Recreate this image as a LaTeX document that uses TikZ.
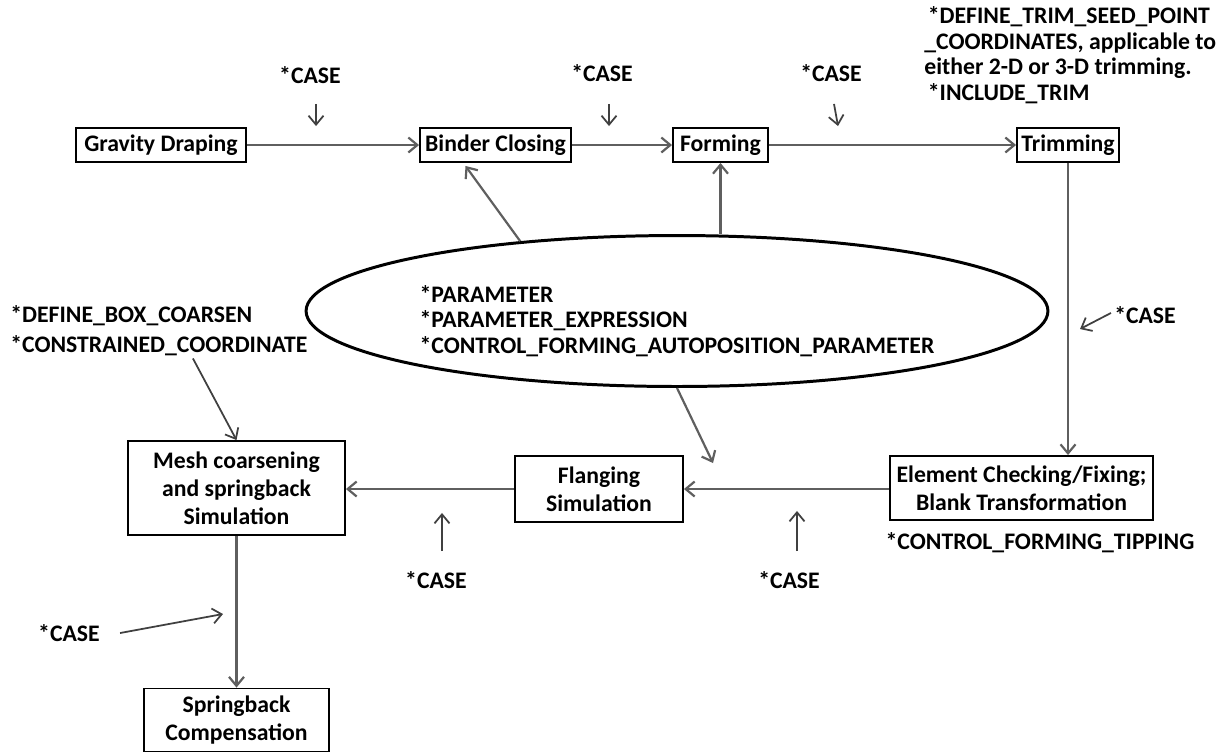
\documentclass[tikz,border=0pt]{standalone}
\usepackage{fontspec}
\setmainfont{Carlito}
\usepackage{tikz}
\usetikzlibrary{arrows.meta,positioning,calc,shapes.geometric}
\definecolor{flow}{HTML}{5F5F5F}
\definecolor{hint}{HTML}{404040}

\begin{document}
\begin{tikzpicture}[x=0.02cm, y=-0.02cm, font=\bfseries\fontsize{13.5}{16}\selectfont,
  box/.style={draw=black, line width=1.1pt, align=center, inner sep=1pt},
  arr/.style={-{Straight Barb[length=1.8mm, width=3mm]}, line width=1.25pt, draw=flow},
  hintarr/.style={-{Straight Barb[length=1.8mm, width=3mm]}, line width=1pt, draw=hint},
  tag/.style={inner sep=0pt, align=left}]
\useasboundingbox (0,0) rectangle (1222,752);
% top row
\node[box, minimum width=3.4cm, minimum height=0.68cm] (grav) at (161,145) {Gravity Draping};
\node[box, minimum width=3.02cm, minimum height=0.68cm] (binder) at (495.5,145) {Binder Closing};
\node[box, minimum width=1.9cm, minimum height=0.68cm] (forming) at (720.5,145) {Forming};
\node[box, minimum width=2.04cm, minimum height=0.68cm] (trim) at (1068,145) {Trimming};
% bottom row
\node[box, minimum width=5.26cm, minimum height=1.28cm] (elem) at (1021.5,488) {Element Checking/Fixing;\\Blank Transformation};
\node[box, minimum width=3.36cm, minimum height=1.32cm] (flang) at (599,489) {Flanging\\Simulation};
\node[box, minimum width=4.34cm, minimum height=1.88cm] (mesh) at (236.5,488) {Mesh coarsening\\and springback\\Simulation};
\node[box, minimum width=3.7cm, minimum height=1.26cm] (spring) at (236.5,720) {Springback\\Compensation};
% parameter ellipse
\node[ellipse, draw=black, line width=1.7pt, minimum width=14.84cm, minimum height=3.02cm] (params) at (677,311) {};
\node[tag, font=\bfseries\fontsize{13.5}{14.5}\selectfont] (paramkw) at (677,321)
  {*PARAMETER\\*PARAMETER\_EXPRESSION\\*CONTROL\_FORMING\_AUTOPOSITION\_PARAMETER};
\coordinate (flangtip) at (713,463);
% keyword labels
\node[tag] (case1) at (310,75) {*CASE};
\node[tag] (case2) at (602,73) {*CASE};
\node[tag] (case3) at (831,73) {*CASE};
\node[tag, anchor=west, font=\bfseries\fontsize{13.5}{14.5}\selectfont] (trimkw) at (924,55)
  {\hspace{2pt}*DEFINE\_TRIM\_SEED\_POINT\\\_COORDINATES, applicable to\\either 2-D or 3-D trimming.\\\hspace{2pt}*INCLUDE\_TRIM};
\node[tag] (case4) at (1145,315) {*CASE};
\node[tag] (tipping) at (1040,543) {*CONTROL\_FORMING\_TIPPING};
\node[tag] (case5) at (789,580) {*CASE};
\node[tag] (case6) at (436,580) {*CASE};
\node[tag, anchor=west, font=\bfseries\fontsize{13.5}{17}\selectfont] (coarsen) at (10,331)
  {*DEFINE\_BOX\_COARSEN\\*CONSTRAINED\_COORDINATE};
\node[tag] (case7) at (69,633) {*CASE};
% flow
\draw[arr] (grav) -- (binder);
\draw[arr] (binder) -- (forming);
\draw[arr] (forming) -- (trim);
\draw[arr] (trim.south) -- (trim.south |- elem.north);
\draw[arr] (elem.west |- flang) -- (flang);
\draw[arr] (flang) -- (mesh.east |- flang);
\draw[arr] (mesh) -- (spring);
\draw[arr] (params.156) -- ([shift={(-30,3)}]binder.south);
\draw[arr] (forming.south |- params.north) -- (forming.south);
\draw[arr] (params.south) -- (flangtip);
% keyword arrows
\draw[hintarr] ([shift={(6,20)}]case1.south) -- ([shift={(6,-1)}]case1.south |- grav.north);
\draw[hintarr] ([shift={(7,22)}]case2.south) -- ([shift={(7,-1)}]case2.south |- binder.north);
\draw[hintarr] ([shift={(3,22)}]case3.south) -- ([shift={(7,-1)}]case3.south |- forming.north);
\draw[hintarr] ([shift={(-3,-2)}]case4.west) -- (1080,329);
\draw[hintarr] ([shift={(8,-20)}]case5.north) -- ([shift={(8,-10)}]case5.north |- elem.south);
\draw[hintarr] ([shift={(6,-20)}]case6.north) -- ([shift={(6,-10)}]case6.north |- flang.south);
\draw[hintarr] ([shift={(34,2)}]coarsen.south) -- (mesh.north);
\draw[hintarr] ([shift={(20,0)}]case7.east) -- (223,614);
\end{tikzpicture}
\end{document}
